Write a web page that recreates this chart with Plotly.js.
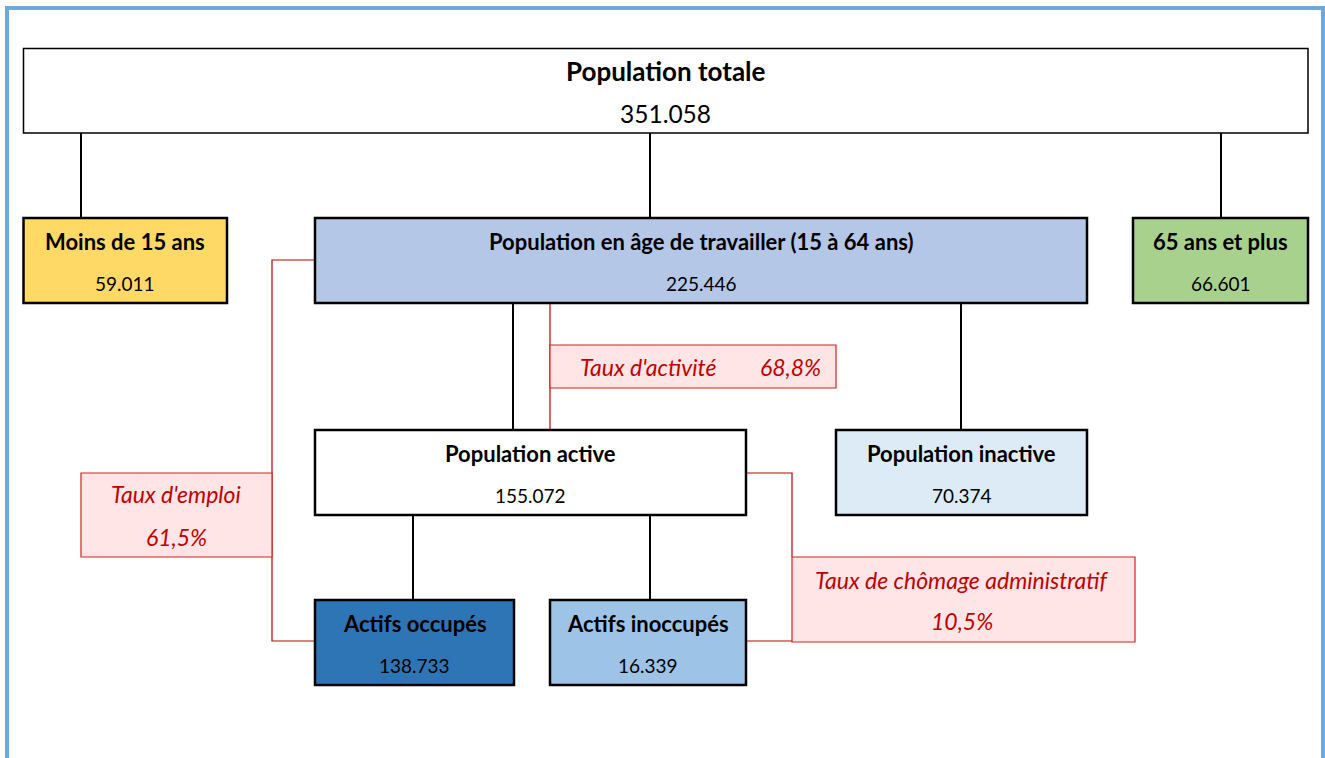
<!DOCTYPE html>
<html><head><meta charset="utf-8">
<script src="https://cdn.plot.ly/plotly-3.0.1.min.js"></script>
<style>html,body{margin:0;padding:0;background:#fff;}#chart{width:1325px;height:758px;}</style>
</head><body><div id="chart"></div>
<script>
// ---- data ----
const nodeNames = ["Population totale", "Moins de 15 ans", "Population en âge de travailler (15 à 64 ans)", "65 ans et plus", "Population active", "Population inactive", "Actifs occupés", "Actifs inoccupés"];
const nodeValues = ["351.058", "59.011", "225.446", "66.601", "155.072", "70.374", "138.733", "16.339"];
const rateNames = ["Taux d'activité", "Taux d'emploi", "Taux de chômage administratif"];
const rateValues = ["68,8%", "61,5%", "10,5%"];

// ---- layout geometry (pixels) ----
const nodeBoxes = [
  [23.5, 48.5, 1308, 133],
  [23.5, 218, 227, 303],
  [315, 218, 1087, 303],
  [1133, 218, 1308, 303],
  [315, 430, 746, 515],
  [836, 430, 1087, 515],
  [315, 600, 514, 685],
  [550, 600, 746, 685]
];
const nodeFills = ["#FFFFFF", "#FFD966", "#B4C7E7", "#A9D18E", "#FFFFFF", "#DDEBF7", "#2E75B6", "#9DC3E6"];
const rateBoxes = [
  [550, 345, 836, 388],
  [81, 473, 272, 557],
  [792, 557, 1135, 642]
];
const blackLines = [
  [[81,133],[81,218]], [[650,133],[650,218]], [[1221,133],[1221,218]],
  [[513,303],[513,430]], [[961,303],[961,430]],
  [[413,515],[413,600]], [[650,515],[650,600]]
];
const redPaths = [
  [[550,303],[550,430]],
  [[315,260],[272,260],[272,641],[315,641]],
  [[746,473],[792,473],[792,557]],
  [[746,641],[792,641]]
];

const shapes = [];
// outer frame
shapes.push({type:'rect', xref:'x', yref:'y', x0:7, y0:8, x1:1323, y1:800, line:{color:'#6FA8DC', width:4}, fillcolor:'rgba(0,0,0,0)', layer:'below'});
blackLines.forEach(l => shapes.push({type:'line', xref:'x', yref:'y', x0:l[0][0], y0:l[0][1], x1:l[1][0], y1:l[1][1], line:{color:'#000', width:2}}));
redPaths.forEach(p => {
  const d = p.map((pt,i)=> (i? 'L':'M') + pt[0] + ',' + pt[1]).join(' ');
  shapes.push({type:'path', xref:'x', yref:'y', path:d, line:{color:'#C00000', width:1.2}});
});
nodeBoxes.forEach((b,i) => shapes.push({type:'rect', xref:'x', yref:'y', x0:b[0], y0:b[1], x1:b[2], y1:b[3], fillcolor:nodeFills[i], line:{color:'#000', width: i===0 ? 1.5 : 2.5}}));
rateBoxes.forEach(b => shapes.push({type:'rect', xref:'x', yref:'y', x0:b[0], y0:b[1], x1:b[2], y1:b[3], fillcolor:'#FFE5E6', line:{color:'#D42020', width:1.2}}));

const FONT = 'Lato, "Open Sans", sans-serif';
const annotations = [];
nodeBoxes.forEach((b,i) => {
  const cx = (b[0]+b[2])/2;
  const top = i===0;
  annotations.push({xref:'x', yref:'y', x:cx, y: top ? 71 : b[1]+23, text:'<b>'+nodeNames[i]+'</b>', showarrow:false, xanchor:'center', yanchor:'middle', font:{family:FONT, size: top ? 26 : 22, color:'#000'}});
  annotations.push({xref:'x', yref:'y', x:cx, y: top ? 113 : b[1]+65, text:nodeValues[i], showarrow:false, xanchor:'center', yanchor:'middle', font:{family:FONT, size: top ? 24.5 : 19, color:'#000'}});
});
const redFont = {family:FONT, size:23, color:'#C00000'};
// Taux d'activité (single line: name + value)
annotations.push({xref:'x', yref:'y', x:648, y:367, text:'<i>'+rateNames[0]+'</i>', showarrow:false, xanchor:'center', yanchor:'middle', font:redFont});
annotations.push({xref:'x', yref:'y', x:790, y:367, text:'<i>'+rateValues[0]+'</i>', showarrow:false, xanchor:'center', yanchor:'middle', font:redFont});
// Taux d'emploi
annotations.push({xref:'x', yref:'y', x:176, y:494, text:'<i>'+rateNames[1]+'</i>', showarrow:false, xanchor:'center', yanchor:'middle', font:redFont});
annotations.push({xref:'x', yref:'y', x:176, y:537, text:'<i>'+rateValues[1]+'</i>', showarrow:false, xanchor:'center', yanchor:'middle', font:redFont});
// Taux de chômage
annotations.push({xref:'x', yref:'y', x:962, y:580, text:'<i>'+rateNames[2]+'</i>', showarrow:false, xanchor:'center', yanchor:'middle', font:redFont});
annotations.push({xref:'x', yref:'y', x:962, y:621, text:'<i>'+rateValues[2]+'</i>', showarrow:false, xanchor:'center', yanchor:'middle', font:redFont});

const layout = {
  width:1325, height:758,
  margin:{l:0, r:0, t:0, b:0},
  paper_bgcolor:'#FFFFFF', plot_bgcolor:'#FFFFFF',
  xaxis:{range:[0,1325], visible:false, fixedrange:true},
  yaxis:{range:[758,0], visible:false, fixedrange:true},
  shapes: shapes,
  annotations: annotations,
  showlegend:false
};
Plotly.newPlot('chart', [{x:[], y:[], type:'scatter', mode:'markers', hoverinfo:'skip'}], layout, {displayModeBar:false, staticPlot:true});
</script>
</body></html>
